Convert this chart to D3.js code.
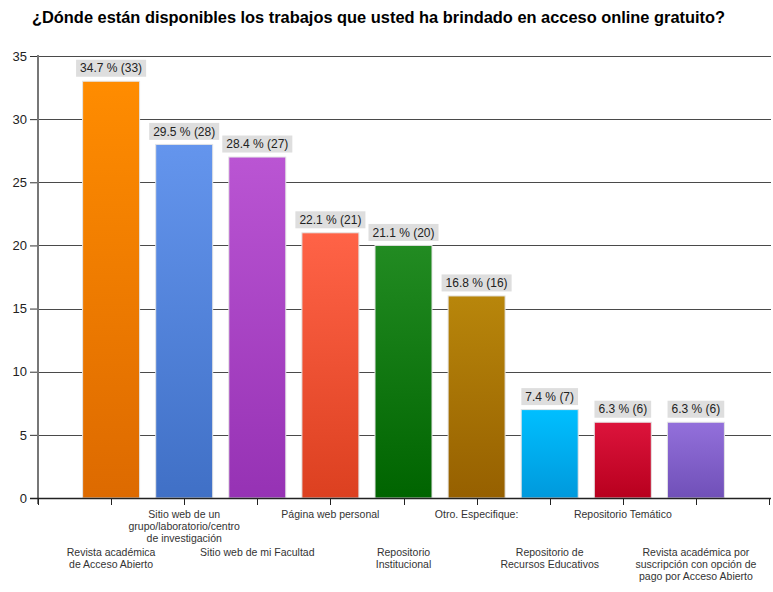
<!DOCTYPE html>
<html>
<head>
<meta charset="utf-8">
<script src="https://cdn.jsdelivr.net/npm/d3@7"></script>
<style>
  body { margin: 0; background: #fff; }
  text { font-family: "Liberation Sans", Arial, sans-serif; }
</style>
</head>
<body>
<svg id="chart" width="773" height="592"></svg>
<script>
// chart data
const categories = [
    ["Revista académica", "de Acceso Abierto"],
    ["Sitio web de un", "grupo/laboratorio/centro", "de investigación"],
    ["Sitio web de mi Facultad"],
    ["Página web personal"],
    ["Repositorio", "Institucional"],
    ["Otro. Especifique:"],
    ["Repositorio de", "Recursos Educativos"],
    ["Repositorio Temático"],
    ["Revista académica por", "suscripción con opción de", "pago por Acceso Abierto"]
];
const counts = [33, 28, 27, 21, 20, 16, 7, 6, 6];
const percents = [34.7, 29.5, 28.4, 22.1, 21.1, 16.8, 7.4, 6.3, 6.3];
const topColors = ["#ff8c00", "#6495ed", "#ba55d3", "#ff6347", "#228b22", "#b8860b", "#00bfff", "#dc143c", "#9370db"];
const bottomColors = ["#dd6a00", "#4070c6", "#9632b4", "#dc4020", "#006400", "#966000", "#0099dc", "#b8001e", "#7050b8"];
const yTicks = [0, 5, 10, 15, 20, 25, 30, 35];
const title = "¿Dónde están disponibles los trabajos que usted ha brindado en acceso online gratuito?";

{ // limit scope...
const svg = d3.select("#chart");
const plotLeft = 38, plotRight = 769, plotTop = 56, plotBottom = 498;

const x = d3.scaleLinear().domain([0, categories.length + 1]).range([plotLeft, plotRight]);
const y = d3.scaleLinear().domain([0, 35]).range([plotBottom, plotTop]);
const barW = 57;

// gradients for bars
const defs = svg.append("defs");
counts.forEach((c, i) => {
    const g = defs.append("linearGradient")
        .attr("id", `grad${i}`)
        .attr("x1", 0).attr("y1", 0).attr("x2", 0).attr("y2", 1);
    g.append("stop").attr("offset", "0%").attr("stop-color", topColors[i]);
    g.append("stop").attr("offset", "100%").attr("stop-color", bottomColors[i]);
});

// title
svg.append("text")
    .attr("x", 32).attr("y", 23)
    .attr("font-size", 16.4).attr("font-weight", "bold")
    .attr("fill", "#000")
    .text(title);

// gridlines
svg.append("g")
    .selectAll("line")
    .data(yTicks.filter(d => d > 0))
    .join("line")
        .attr("x1", plotLeft).attr("x2", plotRight + 2)
        .attr("y1", d => Math.round(y(d)) + 0.5)
        .attr("y2", d => Math.round(y(d)) + 0.5)
        .attr("stroke", "#4a4a4a")
        .attr("stroke-width", 1);

// y axis
const yAxis = svg.append("g")
    .attr("transform", `translate(${plotLeft},0)`)
    .call(d3.axisLeft(y).tickValues(yTicks).tickSize(8).tickPadding(3));
yAxis.select(".domain").remove();
yAxis.selectAll(".tick line").attr("stroke", "#333");
yAxis.selectAll(".tick text")
    .attr("font-size", 13)
    .attr("font-family", "Liberation Sans, Arial, sans-serif")
    .attr("fill", "#222");

svg.append("line")
    .attr("x1", plotLeft).attr("x2", plotLeft)
    .attr("y1", plotTop - 1).attr("y2", plotBottom + 6)
    .attr("stroke", "#777").attr("stroke-width", 2);

// bars
svg.append("g")
    .selectAll("rect")
    .data(counts)
    .join("rect")
        .attr("x", (d, i) => x(i + 1) - barW / 2)
        .attr("y", d => y(d))
        .attr("width", barW)
        .attr("height", d => y(0) - y(d))
        .attr("fill", (d, i) => `url(#grad${i})`)
        .attr("stroke", "#e4e4e4")
        .attr("stroke-width", 1);

// value labels
const lbl = svg.append("g")
    .selectAll("g")
    .data(counts)
    .join("g")
        .attr("transform", (d, i) => `translate(${x(i + 1)},${y(d) - 13})`);
lbl.append("text")
    .attr("text-anchor", "middle")
    .attr("font-size", 12)
    .attr("fill", "#222")
    .attr("dy", "0.35em")
    .text((d, i) => `${percents[i]} % (${d})`)
    .each(function() {
        const bb = this.getBBox();
        d3.select(this.parentNode).insert("rect", "text")
            .attr("x", bb.x - 4).attr("y", -8.5)
            .attr("width", bb.width + 8).attr("height", 17)
            .attr("fill", "#dedede");
    });

// x axis
svg.append("line")
    .attr("x1", plotLeft - 8).attr("x2", plotRight + 2)
    .attr("y1", plotBottom + 0.5).attr("y2", plotBottom + 0.5)
    .attr("stroke", "#222").attr("stroke-width", 1.5);
svg.append("g")
    .selectAll("line")
    .data(d3.range(categories.length + 2))
    .join("line")
        .attr("x1", d => Math.round(x(d)) + 0.5).attr("x2", d => Math.round(x(d)) + 0.5)
        .attr("y1", plotBottom).attr("y2", plotBottom + 7)
        .attr("stroke", "#222");

// category labels, alternate rows
const cat = svg.append("g")
    .selectAll("text")
    .data(categories)
    .join("text")
        .attr("text-anchor", "middle")
        .attr("font-size", 10.5)
        .attr("fill", "#333")
        .attr("transform", (d, i) => `translate(${x(i + 1)},${i % 2 === 1 ? 518 : 556})`);
cat.selectAll("tspan")
    .data(d => d)
    .join("tspan")
        .attr("x", 0)
        .attr("dy", (d, j) => j === 0 ? 0 : 12)
        .text(d => d);
}
</script>
</body>
</html>
